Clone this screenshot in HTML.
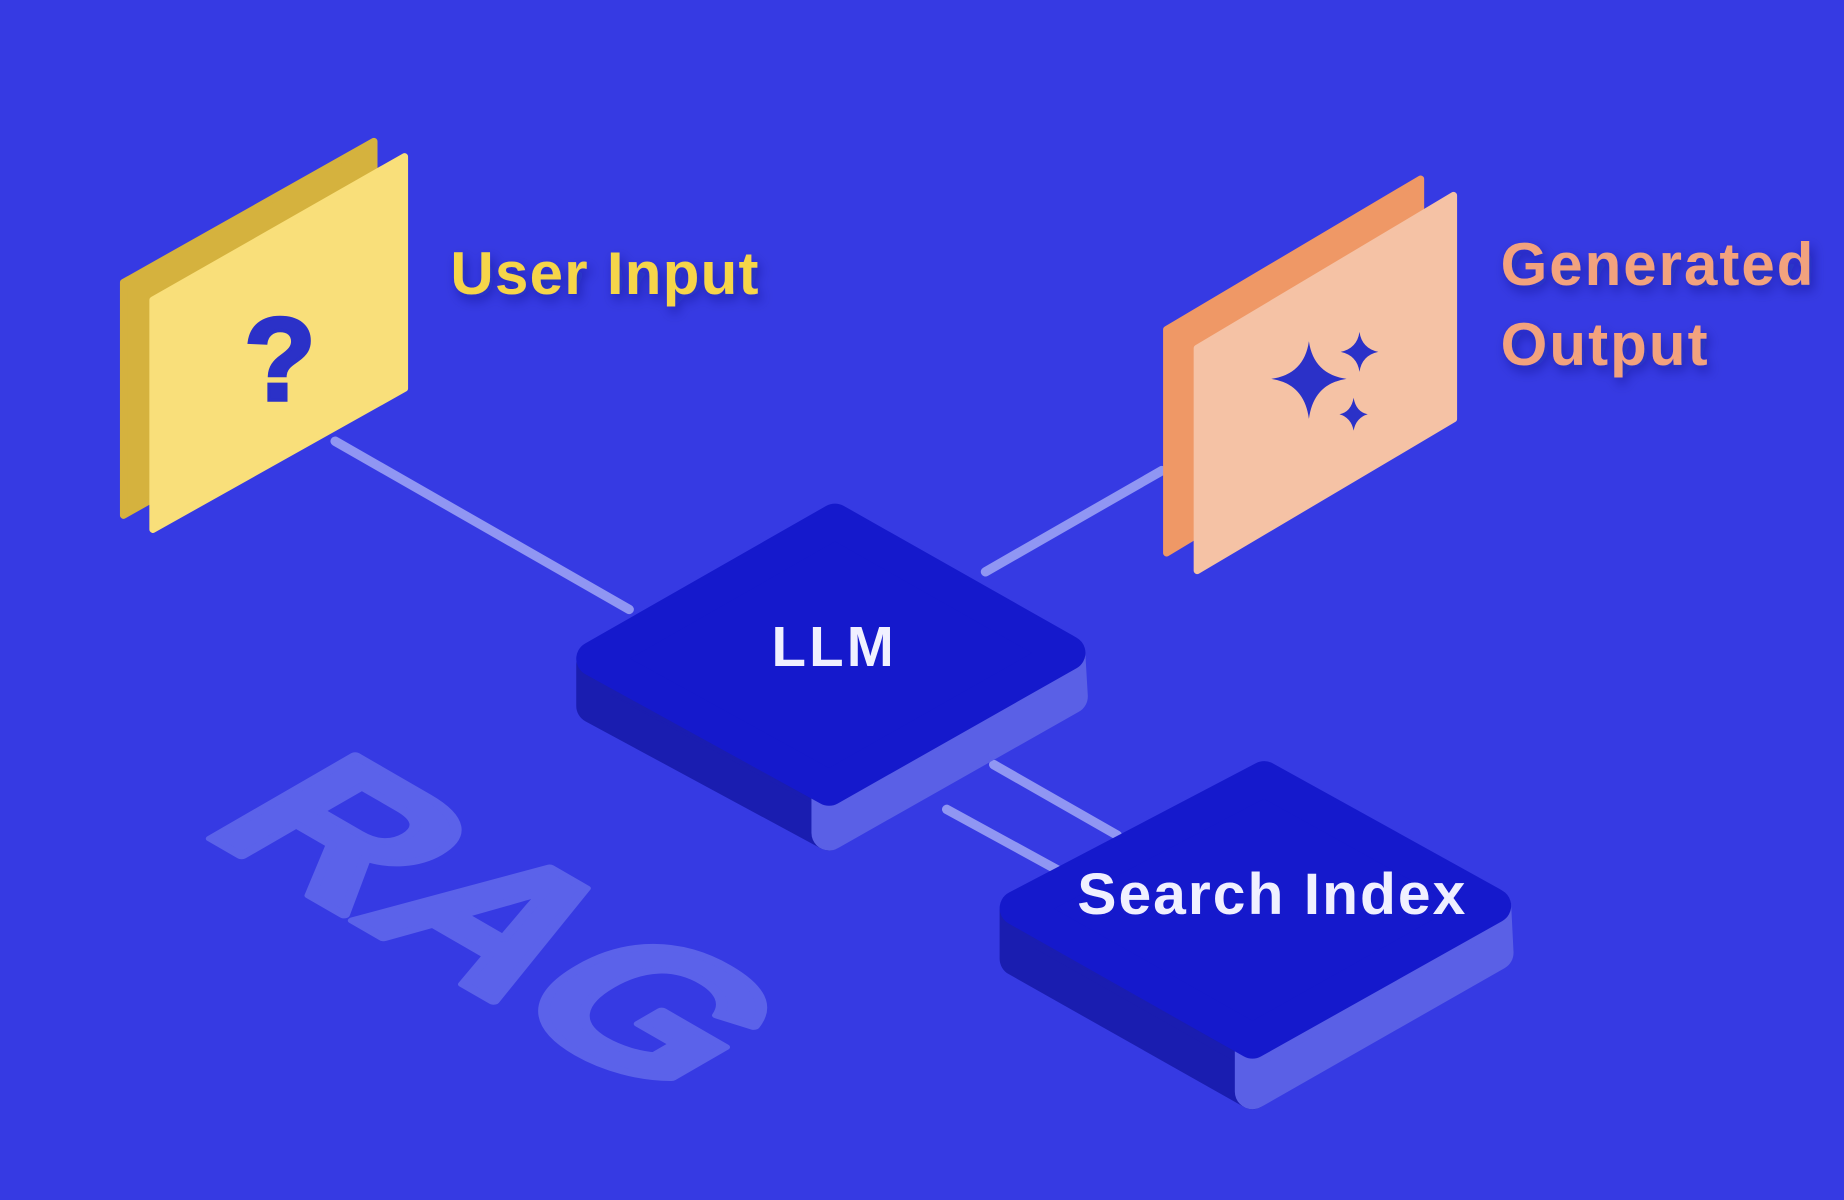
<!DOCTYPE html>
<html><head><meta charset="utf-8"><style>
html,body{margin:0;padding:0;background:#363ae3;}
svg{display:block}
</style></head><body>
<svg width="1844" height="1200" viewBox="0 0 1568 1020" xmlns="http://www.w3.org/2000/svg">
<defs>
<filter id="sh" x="-10%" y="-30%" width="130%" height="180%"><feDropShadow dx="3" dy="5" stdDeviation="5" flood-color="#10126a" flood-opacity="0.45"/></filter>
</defs>
<rect width="1568" height="1020" fill="#363ae3"/>
<!-- RAG -->
<text transform="matrix(0.866,0.5,-0.866,0.5,168,706)" font-family="Liberation Sans, sans-serif" font-weight="bold" font-size="205" fill="#5b62ea" stroke="#5b62ea" stroke-width="8" stroke-linejoin="round">RAG</text>
<!-- connector lines -->
<g stroke="#9aa0f5" stroke-width="8" stroke-linecap="round" opacity="0.9">
<line x1="285" y1="375" x2="535" y2="518"/>
<line x1="838" y1="486" x2="988" y2="400"/>
<line x1="845" y1="650" x2="950" y2="710"/>
<line x1="805" y1="688" x2="900" y2="740"/>
</g>
<!-- User input card -->
<polygon points="105,240 318,120 318,318 105,438" fill="#d5b23e" stroke="#d5b23e" stroke-width="6" stroke-linejoin="round"/>
<polygon points="130,255 344,133 344,330 130,450" fill="#f9df7a" stroke="#f9df7a" stroke-width="6" stroke-linejoin="round"/>
<text x="238" y="340" text-anchor="middle" font-family="Liberation Sans, sans-serif" font-weight="bold" font-size="100" fill="#2b31c8" stroke="#2b31c8" stroke-width="3">?</text>
<text x="383" y="250" textLength="262" font-family="Liberation Sans, sans-serif" font-weight="bold" font-size="51" fill="#f6d54a" filter="url(#sh)">User Input</text>
<!-- Generated output card -->
<polygon points="992,280 1208,152 1208,340 992,470" fill="#ef9866" stroke="#ef9866" stroke-width="6" stroke-linejoin="round"/>
<polygon points="1018,296 1236,166 1236,356 1018,485" fill="#f5c2a5" stroke="#f5c2a5" stroke-width="6" stroke-linejoin="round"/>
<g fill="#2b31c8">
<path d="M1113,290 Q1117,318 1145,322 Q1117,326 1113,356 Q1109,326 1081,322 Q1109,318 1113,290Z"/>
<path d="M1156,282 Q1158,296 1172,299 Q1158,302 1156,316 Q1154,302 1140,299 Q1154,296 1156,282Z"/>
<path d="M1151,338 Q1153,350 1163,352 Q1153,355 1151,366 Q1149,355 1139,352 Q1149,350 1151,338Z"/>
</g>
<text font-family="Liberation Sans, sans-serif" font-weight="bold" font-size="51" fill="#f2a27e" filter="url(#sh)"><tspan x="1276" y="242" textLength="266">Generated</tspan><tspan x="1276" y="310" textLength="176">Output</tspan></text>
<!-- LLM box -->
<g stroke-linejoin="round" stroke-width="30">
<polygon points="505,565 505,600 705,708 705,670" fill="#1a1db0" stroke="#1a1db0"/>
<polygon points="705,670 705,708 910,592 908,558" fill="#5a60e6" stroke="#5a60e6"/>
<polygon points="505,560 710,443 908,555 705,670" fill="#1519cc" stroke="#1519cc"/>
</g>
<text x="708" y="566" textLength="104" text-anchor="middle" font-family="Liberation Sans, sans-serif" font-weight="bold" font-size="48" fill="#f0f0ff">LLM</text>
<!-- Search index box -->
<g stroke-linejoin="round" stroke-width="30">
<polygon points="865,775 865,815 1065,928 1065,885" fill="#1a1db0" stroke="#1a1db0"/>
<polygon points="1065,885 1065,928 1272,810 1270,770" fill="#5a60e6" stroke="#5a60e6"/>
<polygon points="865,772 1075,662 1270,770 1065,885" fill="#1519cc" stroke="#1519cc"/>
</g>
<text x="916" y="777" textLength="330" font-family="Liberation Sans, sans-serif" font-weight="bold" font-size="50" fill="#f0f0ff">Search Index</text>
</svg>
</body></html>
